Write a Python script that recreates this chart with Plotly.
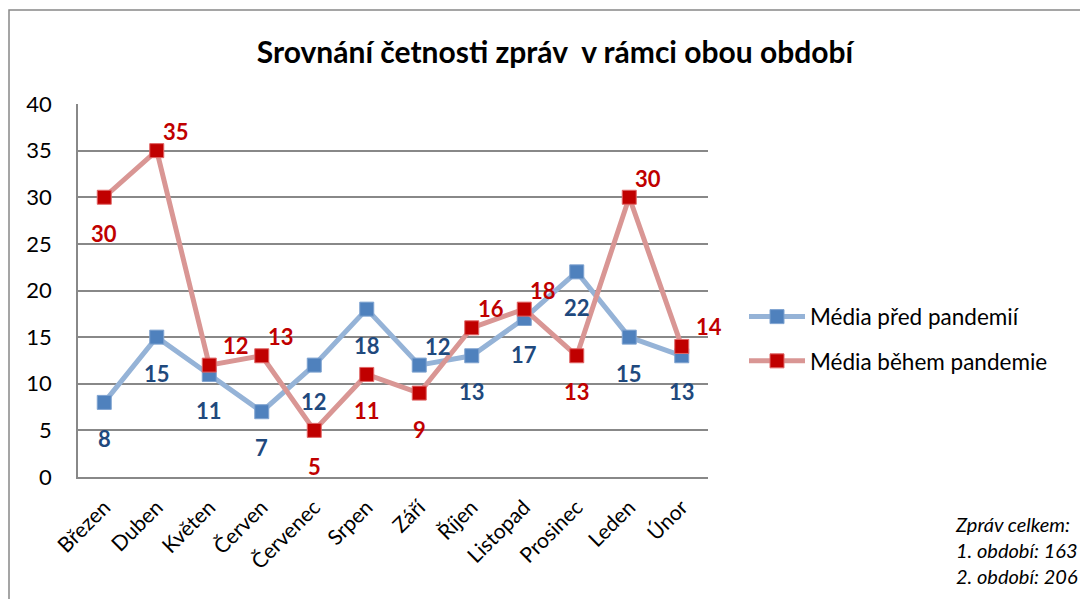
import plotly.graph_objects as go

months = ["Březen", "Duben", "Květen", "Červen", "Červenec", "Srpen", "Září",
          "Říjen", "Listopad", "Prosinec", "Leden", "Únor"]
pred = [8, 15, 11, 7, 12, 18, 12, 13, 17, 22, 15, 13]
behem = [30, 35, 12, 13, 5, 11, 9, 16, 18, 13, 30, 14]
name_pred = "Média před pandemií"
name_behem = "Média během pandemie"
title = "Srovnání četnosti zpráv  v rámci obou období"
y_ticks = [0, 5, 10, 15, 20, 25, 30, 35, 40]

# label placement styles (b = below, ar = above-right)
place_pred = ["b", "b", "b", "b", "b", "b", "ar", "b", "b", "b", "b", "b"]
place_behem = ["b", "ar", "ar2", "ar", "b", "b", "b", "ar", "ar", "b", "ar", "ar2"]
shift = {"b": (0, -36), "ar": (19, 19), "ar2": (27, 20)}

FONT = "Lato"
BLUE_LINE = "#95B3D7"
BLUE_MK = "#4F81BD"
BLUE_TXT = "#1F497D"
RED_LINE = "#D99694"
RED_MK = "#C00000"
RED_TXT = "#C00000"

# figure pixel geometry (page has an 8px body margin)
W, H = 1080, 591
L, R, T, B = 70, 700, 96, 469
PW, PH = R - L, B - T

fig = go.Figure()
fig.add_trace(go.Scatter(
    x=months, y=pred, name=name_pred, mode="lines+markers", legendgroup="a",
    line=dict(color=BLUE_LINE, width=5),
    marker=dict(symbol="square", size=14, color=BLUE_MK, line=dict(color="#7FA3D0", width=1)),
))
fig.add_trace(go.Scatter(
    x=months, y=behem, name=name_behem, mode="lines+markers", legendgroup="b",
    line=dict(color=RED_LINE, width=5),
    marker=dict(symbol="square", size=14, color=RED_MK, line=dict(color="#E06666", width=1)),
))

annotations = []
for vals, places, col in [(pred, place_pred, BLUE_TXT), (behem, place_behem, RED_TXT)]:
    for m, v, p in zip(months, vals, places):
        dx, dy = shift[p]
        annotations.append(dict(
            x=m, y=v, xref="x", yref="y", text=str(v), showarrow=False,
            xshift=dx, yshift=dy, font=dict(family=FONT, size=22, color=col, weight="bold"),
        ))

totals = "<i>Zpráv celkem:<br>1. období: %d<br>2. období: %d</i>" % (sum(pred), sum(behem))
annotations.append(dict(
    x=(945 - L) / PW, y=(B - 502) / PH, xref="paper", yref="paper",
    xanchor="left", yanchor="top", align="left", showarrow=False,
    text=totals, font=dict(family=FONT, size=20, color="#000000"),
))

fig.update_layout(
    width=W, height=H,
    margin=dict(l=L, r=W - R, t=T, b=H - B, autoexpand=False),
    paper_bgcolor="white", plot_bgcolor="white",
    title=dict(text="<b>" + title + "</b>", x=547 / W, y=1 - 44 / H,
               xanchor="center", yanchor="middle",
               font=dict(family=FONT, size=30, color="#000000")),
    font=dict(family=FONT, size=20, color="#000000"),
    showlegend=True,
    legend=dict(x=(736 - L) / PW, y=0.37, xanchor="left", yanchor="middle",
                font=dict(family=FONT, size=22.5, color="#000000"),
                tracegroupgap=12, traceorder="grouped", itemwidth=56,
                bgcolor="rgba(0,0,0,0)"),
    annotations=annotations,
    shapes=[dict(type="rect", xref="paper", yref="paper",
                 x0=(1 - L) / PW, x1=(1090 - L) / PW,
                 y0=(B - 610) / PH, y1=(B - 2) / PH,
                 line=dict(color="#888888", width=1.5), fillcolor="rgba(0,0,0,0)", layer="below")],
)
fig.update_xaxes(
    type="category", range=[-0.5, 11.5], tickangle=-45, automargin=False,
    showgrid=False, showline=True, linecolor="#888888", linewidth=1.5,
    ticks="", ticklabelstandoff=8, tickfont=dict(family=FONT, size=21),
)
fig.update_yaxes(
    range=[0, 40], tickvals=y_ticks, showgrid=True, gridcolor="#888888", gridwidth=1.5,
    showline=True, linecolor="#888888", linewidth=1.5, zeroline=False, automargin=False,
    ticks="", ticklabelstandoff=20, tickfont=dict(family=FONT, size=22),
)
fig.write_html("out.html")
